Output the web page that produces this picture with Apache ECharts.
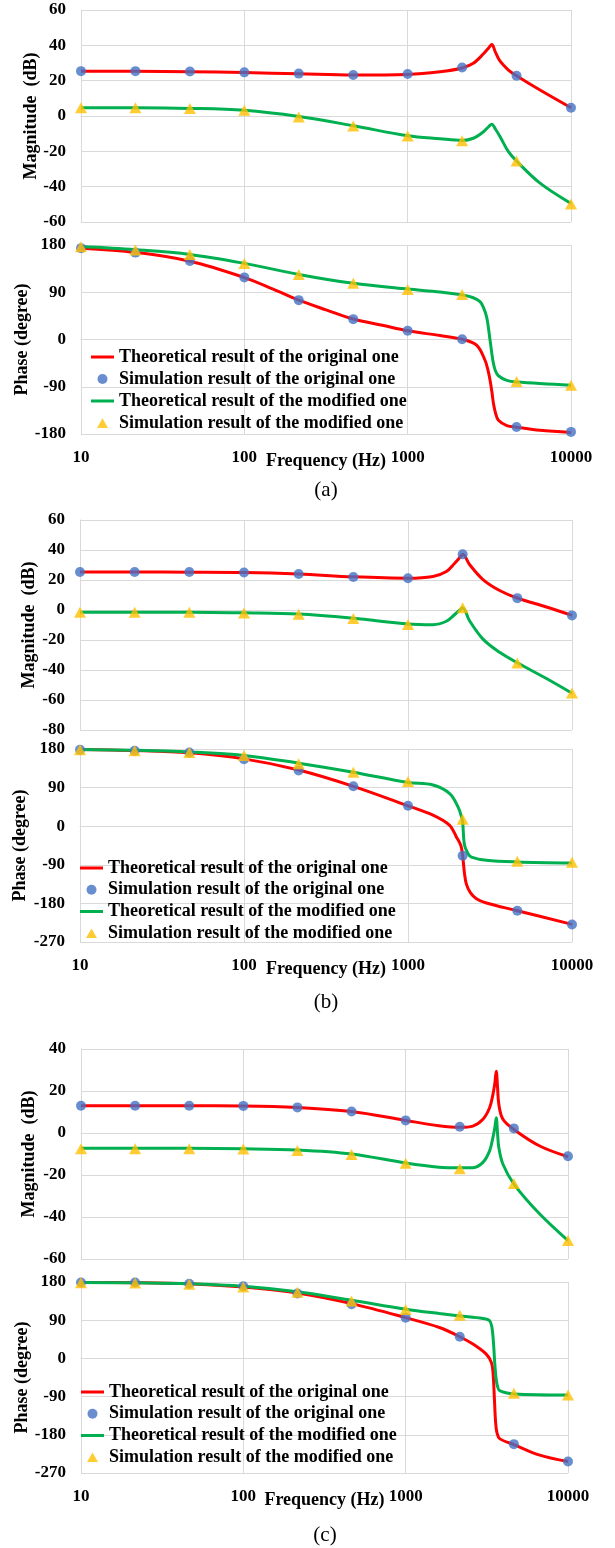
<!DOCTYPE html>
<html>
<head>
<meta charset="utf-8">
<script src="https://cdn.jsdelivr.net/npm/echarts@6/dist/echarts.min.js"></script>
<style>
html,body{margin:0;padding:0;background:#fff;}
#chart{width:615px;height:1548px;}
</style>
</head>
<body>
<div id="chart"></div>
<script>
// ---------- data ----------
var xTickLabels = ['10', '100', '1000', '10000'];
var legendNames = [
  'Theoretical result of the original one',
  'Simulation result of the original one',
  'Theoretical result of the modified one',
  'Simulation result of the modified one'
];
var captions = ['(a)', '(b)', '(c)'];

// simulation frequencies (Hz)
var freqSim = [10, 21.54, 46.42, 100, 215.4, 464.2, 1000, 2154, 4642, 10000];

// ----- panel (a) -----
var simMagOrigA = [25.4, 25.4, 25.2, 24.7, 24.0, 23.2, 23.8, 27.5, 22.8, 4.7];
var simMagModA  = [4.7, 4.7, 4.3, 3.2, -0.5, -5.7, -11.3, -14.0, -25.5, -49.8];
var simPhOrigA  = [174, 165.5, 149.5, 118.3, 75, 38.8, 16.5, 0.6, -166.6, -176];
var simPhModA   = [176.8, 170.5, 162, 145, 124, 107, 95.4, 85.9, -80, -87];

var freqMagA    = [10, 21.54, 46.42, 100, 215.4, 464.2, 1000, 1578, 2154, 2524, 2912, 3150, 3273, 3450, 3680, 4140, 4642, 6460, 10000];
var theoMagOrigA = [25.4, 25.3, 25.1, 24.6, 23.9, 23.2, 23.5, 25.0, 27.2, 29.8, 35.2, 38.8, 40.5, 36.0, 31.0, 26.0, 22.8, 14.7, 4.7];
var theoMagModA  = [4.6, 4.6, 4.3, 3.2, -0.3, -5.5, -11.2, -12.9, -13.8, -12.6, -8.9, -5.8, -4.6, -7.5, -11.7, -20.2, -25.5, -38.0, -49.5];

var freqPhOrigA = [10, 21.54, 46.42, 100, 150, 215.4, 320, 464.2, 700, 1000, 1578, 2154, 2650, 2980, 3100, 3197, 3280, 3352, 3450, 3594, 4045, 4642, 6460, 10000];
var theoPhOrigA = [174, 166, 149, 118, 96, 75, 56, 39, 27, 16.5, 7.6, 0.5, -11, -40, -58, -78, -100, -122, -140, -154, -164, -167, -173, -177];
var freqPhModA  = [10, 21.54, 46.42, 100, 215.4, 464.2, 1000, 1578, 2154, 2500, 2773, 2900, 3049, 3197, 3280, 3352, 3450, 3594, 4045, 4642, 10000];
var theoPhModA  = [177, 171, 162, 145, 124, 107, 96, 90.6, 85, 80, 72, 62, 42, -2, -28, -46, -60, -69, -78, -81, -87];

// ----- panel (b) -----
var simMagOrigB = [25.3, 25.3, 25.3, 25.0, 24.0, 22.0, 21.2, 37.1, 7.9, -3.6];
var simMagModB  = [-1.5, -1.5, -1.5, -2.0, -2.8, -5.6, -9.6, 1.5, -35.3, -55.3];
var simPhOrigB  = [178, 176, 172, 156, 130, 93, 47.5, -69, -197, -229];
var simPhModB   = [178.4, 176, 172, 165, 145.7, 125.5, 104.4, 16.4, -82, -84];

var freqMagB     = [10, 21.54, 46.42, 100, 215.4, 464.2, 1000, 1420, 1714, 1926, 2070, 2154, 2377, 2865, 3620, 4642, 6980, 10000];
var theoMagOrigB = [25.3, 25.3, 25.2, 25.0, 24.0, 22.1, 21.2, 22.4, 25.7, 31.2, 35.0, 37.1, 30.2, 20.3, 13.0, 8.0, 2.0, -3.6];
var theoMagModB  = [-1.5, -1.5, -1.5, -1.9, -2.7, -5.5, -9.3, -9.8, -7.5, -3.0, 0.0, 1.5, -7.3, -19.4, -28.2, -35.2, -45.7, -55.5];

var freqPhOrigB = [10, 21.54, 46.42, 100, 215.4, 464.2, 1000, 1420, 1795, 1972, 2100, 2154, 2210, 2270, 2400, 2612, 3006, 4642, 10000];
var theoPhOrigB = [179, 176.5, 171, 157, 131, 93, 47.5, 25.7, 2, -25, -45, -69, -110, -135, -155, -169, -179, -197, -229];
var freqPhModB  = [10, 21.54, 46.42, 100, 215.4, 464.2, 1000, 1420, 1795, 2018, 2120, 2154, 2210, 2323, 2437, 3006, 4642, 10000];
var theoPhModB  = [179, 177, 173, 165, 147, 126, 102, 96, 76, 45, 22, 10, -44, -64, -72, -79.5, -83.4, -85.8];

// ----- panel (c) -----
var simMagOrigC = [13, 13, 13, 12.9, 12.2, 10.2, 6, 3, 2.2, -11.1];
var simMagModC  = [-7.5, -7.5, -7.5, -7.6, -8.3, -10.2, -14.4, -17.0, -24.0, -51.2];
var simPhOrigC  = [179, 179, 176, 170, 153, 127.6, 96, 51, -202, -243];
var simPhModC   = [178, 177.7, 174.5, 168, 156, 135.4, 115, 101.7, -82, -86];

var freqMagC     = [10, 21.54, 46.42, 100, 215.4, 464.2, 1000, 1600, 2154, 2596, 2992, 3289, 3447, 3540, 3614, 3680, 3750, 3975, 4642, 6700, 10000];
var theoMagOrigC = [13, 13, 13, 12.9, 12.2, 10.2, 6, 3.5, 2.7, 3.3, 6.5, 12, 18.3, 23.5, 29.4, 22, 13.6, 6.5, 1.7, -6.2, -11.3];
var theoMagModC  = [-7.3, -7.3, -7.3, -7.5, -8.1, -10, -14.3, -16.3, -16.6, -16.5, -14, -8.5, -2.2, 2.5, 7.3, 0, -7, -14.9, -24.3, -38.6, -51.2];

var freqPhOrigC = [10, 21.54, 46.42, 100, 215.4, 464.2, 1000, 1614, 2154, 2596, 3135, 3367, 3447, 3510, 3580, 3650, 3793, 4642, 6700, 10000];
var theoPhOrigC = [179, 178.5, 176, 168, 154, 129, 96, 72.8, 51, 33.7, 10, -9, -30, -84, -150, -175, -189, -203, -228, -243];
var freqPhModC  = [10, 21.54, 46.42, 100, 215.4, 464.2, 1000, 1614, 2154, 2992, 3289, 3400, 3470, 3530, 3600, 3670, 3793, 4642, 10000];
var theoPhModC  = [179, 178, 176, 170, 157, 137, 116, 105.6, 100, 94, 88.6, 73, 40, -5, -45, -64, -76, -83.6, -86];

// ---------- build ----------
var FONT = "'Liberation Serif','Times New Roman',serif";
var GRID = '#d9d9d9';
function pairs(xs, ys) { return xs.map(function (x, i) { return [x, ys[i]]; }); }

var grids = [
  {left: 81, top: 10,   width: 490, height: 212},
  {left: 81, top: 245,  width: 490, height: 189},
  {left: 80, top: 520,  width: 492, height: 210},
  {left: 80, top: 749,  width: 492, height: 193},
  {left: 81, top: 1049, width: 487, height: 210},
  {left: 81, top: 1282, width: 487, height: 191}
];
var yRanges = [
  {min: -60, max: 60, interval: 20, name: 'Magnitude  (dB)', gap: 41},
  {min: -180, max: 180, interval: 90, name: 'Phase (degree)', gap: 50},
  {min: -80, max: 60, interval: 20, name: 'Magnitude  (dB)', gap: 42},
  {min: -270, max: 180, interval: 90, name: 'Phase (degree)', gap: 51},
  {min: -60, max: 40, interval: 20, name: 'Magnitude  (dB)', gap: 43},
  {min: -270, max: 180, interval: 90, name: 'Phase (degree)', gap: 50}
];

var xAxes = [], yAxes = [];
grids.forEach(function (g, i) {
  var isPhase = i % 2 === 1;
  xAxes.push({
    type: 'log', logBase: 10, min: 10, max: 10000, gridIndex: i,
    axisLine: {show: true, lineStyle: {color: GRID, width: 1}},
    axisTick: {show: false},
    splitLine: {show: true, lineStyle: {color: GRID, width: 1}},
    axisLabel: {
      show: isPhase, margin: 15, fontSize: 17, fontWeight: 'bold', color: '#000', fontFamily: FONT,
      formatter: function (v) {
        var k = Math.round(Math.log10(v));
        return xTickLabels[k - 1] || String(Math.round(v));
      }
    },
    name: isPhase ? 'Frequency (Hz)' : '',
    nameLocation: 'middle', nameGap: 18, nameMoveOverlap: false,
    nameTextStyle: {fontSize: 18, fontWeight: 'bold', color: '#000', fontFamily: FONT}
  });
  var r = yRanges[i];
  yAxes.push({
    type: 'value', gridIndex: i, min: r.min, max: r.max, interval: r.interval,
    axisLine: {show: true, lineStyle: {color: GRID, width: 1}},
    axisTick: {show: false},
    splitLine: {show: true, lineStyle: {color: GRID, width: 1}},
    axisLabel: {margin: 15, fontSize: 17, fontWeight: 'bold', color: '#000', fontFamily: FONT},
    name: r.name, nameLocation: 'middle', nameRotate: 90, nameGap: r.gap, nameMoveOverlap: false,
    nameTextStyle: {fontSize: 18, fontWeight: 'bold', color: '#000', fontFamily: FONT}
  });
});

var panels = [
  {mag: [freqMagA, theoMagOrigA, freqMagA, theoMagModA, simMagOrigA, simMagModA],
   ph:  [freqPhOrigA, theoPhOrigA, freqPhModA, theoPhModA, simPhOrigA, simPhModA]},
  {mag: [freqMagB, theoMagOrigB, freqMagB, theoMagModB, simMagOrigB, simMagModB],
   ph:  [freqPhOrigB, theoPhOrigB, freqPhModB, theoPhModB, simPhOrigB, simPhModB]},
  {mag: [freqMagC, theoMagOrigC, freqMagC, theoMagModC, simMagOrigC, simMagModC],
   ph:  [freqPhOrigC, theoPhOrigC, freqPhModC, theoPhModC, simPhOrigC, simPhModC]}
];

var series = [];
function addSet(idx, d) {
  series.push({name: legendNames[0], type: 'line', xAxisIndex: idx, yAxisIndex: idx,
    data: pairs(d[0], d[1]), symbol: 'none', smooth: 0.35, z: 2,
    lineStyle: {color: '#FF0000', width: 3}, itemStyle: {color: '#FF0000'}});
  series.push({name: legendNames[1], type: 'scatter', xAxisIndex: idx, yAxisIndex: idx,
    data: pairs(freqSim, d[4]), symbol: 'circle', symbolSize: 10, z: 3,
    itemStyle: {color: '#4472C4'}});
  series.push({name: legendNames[2], type: 'line', xAxisIndex: idx, yAxisIndex: idx,
    data: pairs(d[2], d[3]), symbol: 'none', smooth: 0.35, z: 2,
    lineStyle: {color: '#00B050', width: 3}, itemStyle: {color: '#00B050'}});
  series.push({name: legendNames[3], type: 'scatter', xAxisIndex: idx, yAxisIndex: idx,
    data: pairs(freqSim, d[5]), symbol: 'triangle', symbolSize: [12, 11], z: 4,
    itemStyle: {color: '#FFC000'}});
}
panels.forEach(function (p, k) {
  addSet(2 * k, p.mag);
  addSet(2 * k + 1, p.ph);
});

var lineIcon = 'path://M0,0L0.01,0L0,0.01ZM0,3.5L23,3.5L23,6.5L0,6.5ZM23,10L22.99,10L23,9.99Z';
var triIcon  = 'path://M0,0L0.01,0L0,0.01ZM6,10L11.5,0.3L17,10ZM23,10L22.99,10L23,9.99Z';
var legendData = [
  {name: legendNames[0], icon: lineIcon},
  {name: legendNames[1], icon: 'circle'},
  {name: legendNames[2], icon: lineIcon},
  {name: legendNames[3], icon: triIcon}
];
function legendAt(left, top, gap) {
  return {
    orient: 'vertical', left: left, top: top, itemWidth: 23, itemHeight: 10, itemGap: gap,
    padding: 0, selectedMode: false,
    itemStyle: {borderWidth: 0},
    textStyle: {fontSize: 18, fontWeight: 'bold', color: '#000', fontFamily: FONT, lineHeight: 18},
    data: legendData
  };
}

var captionPos = [[326, 490], [326, 1002], [325, 1535]];
var graphics = captions.map(function (c, i) {
  return {type: 'text', x: captionPos[i][0], y: captionPos[i][1],
    style: {text: c, font: '21px ' + FONT, fill: '#000', textAlign: 'center', textVerticalAlign: 'middle'}};
});

var chart = echarts.init(document.getElementById('chart'), null, {renderer: 'canvas'});
chart.setOption({
  animation: false,
  backgroundColor: '#fff',
  textStyle: {fontFamily: FONT},
  grid: grids,
  xAxis: xAxes,
  yAxis: yAxes,
  legend: [legendAt(91, 348, 4), legendAt(80, 859, 3.7), legendAt(81, 1383, 3.7)],
  graphic: graphics,
  series: series
});
</script>
</body>
</html>
